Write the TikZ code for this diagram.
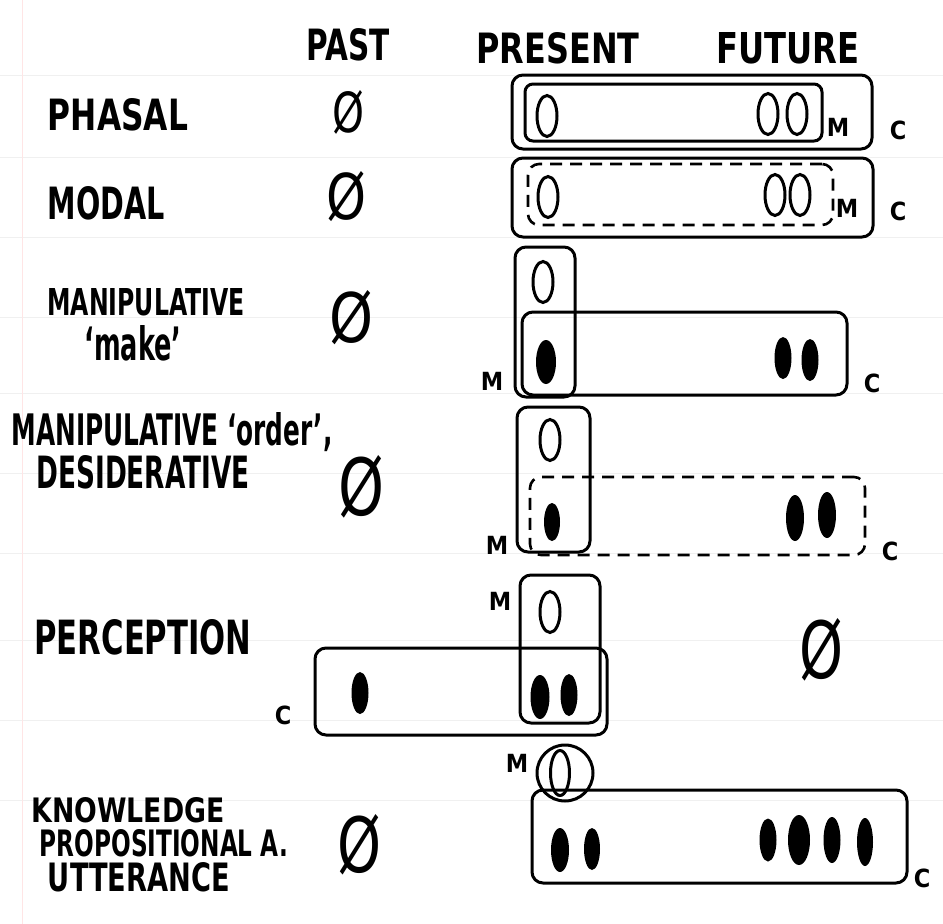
\documentclass[tikz,border=0pt]{standalone}
\usepackage{fontspec}
\setmainfont{DejaVu Sans Condensed}
\usepackage{graphicx}
\usetikzlibrary{shapes.geometric}
\newcommand{\fitlabel}[3]{\resizebox{#1pt}{#2pt}{\bfseries #3}}
\newcommand{\fitnull}[2]{\resizebox{#1pt}{#2pt}{Ø}}
\begin{document}
\begin{tikzpicture}[x=1pt,y=-1pt,
  box/.style={draw, line width=3pt, rounded corners=11pt, inner sep=0pt},
  dbox/.style={draw, line width=2.6pt, rounded corners=11pt, inner sep=0pt, dash pattern=on 12pt off 8pt},
  open/.style={draw, ellipse, line width=3pt, minimum width=20pt, minimum height=41pt, inner sep=0pt},
  full/.style={fill, ellipse, minimum width=17pt, minimum height=42pt, inner sep=0pt},
  lab/.style={inner sep=0pt, anchor=center},
  tag/.style={inner sep=0pt, font=\fontsize{25}{25}\selectfont\bfseries},
  paper/.style={black!6, line width=1pt},
]
% sheet
\fill[white] (0,0) rectangle (943,924);
\useasboundingbox (0,0) rectangle (943,924);
\foreach \yy in {75,157,237,317,393,473,553,640,720,800}
  \draw[paper] (0,\yy) -- (943,\yy);
\draw[red!10, line width=1pt] (22,0) -- (22,924);

% column heads
\node[lab] (hpast) at (348,45) {\fitlabel{83}{32}{PAST}};
\node[lab] (hpres) at (558,48) {\fitlabel{163}{31}{PRESENT}};
\node[lab] (hfut)  at (788,48) {\fitlabel{143}{31}{FUTURE}};

% row heads
\node[lab] (lphasal) at (118,115) {\fitlabel{140}{32}{PHASAL}};
\node[lab] (lmodal)  at (106,203) {\fitlabel{117}{33}{MODAL}};
\node[lab] (lmanA)   at (146,302) {\fitlabel{197}{27}{MANIPULATIVE}};
\node[lab] (lmake)   at (133,343) {\fitlabel{97}{35}{`make'}};
\node[lab] (lmanB)   at (172,432) {\fitlabel{321}{33}{MANIPULATIVE `order',}};
\node[lab] (ldes)    at (143,472) {\fitlabel{213}{33}{DESIDERATIVE}};
\node[lab] (lperc)   at (143,637) {\fitlabel{217}{35}{PERCEPTION}};
\node[lab] (lknow)   at (128,810) {\fitlabel{193}{25}{KNOWLEDGE}};
\node[lab] (lprop)   at (164,843) {\fitlabel{248}{27}{PROPOSITIONAL A.}};
\node[lab] (lutt)    at (139,877) {\fitlabel{182}{29}{UTTERANCE}};

% empty slots
\node[lab] (n1) at (349,112) {\fitnull{32}{42}};
\node[lab] (n2) at (347,197) {\fitnull{40}{48}};
\node[lab] (n3) at (352,318) {\fitnull{44}{52}};
\node[lab] (n4) at (362,487) {\fitnull{46}{60}};
\node[lab] (n5) at (821,650) {\fitnull{44}{60}};
\node[lab] (n6) at (360,845) {\fitnull{44}{58}};

% phasal
\node[box, minimum width=360pt, minimum height=74pt] (pc) at (692,112) {};
\node[box, minimum width=297pt, minimum height=57pt, rounded corners=8pt] (pm) at (673.5,112.5) {};
\node[open] (po1) at (547,116) {};
\node[open] (po2) at (768,114) {};
\node[open] (po3) at (797,114) {};
\node[tag] (pmt) at (838,127) {M};
\node[tag] (pct) at (898,130) {C};

% modal
\node[box, minimum width=361pt, minimum height=79pt] (mc) at (692.5,197.5) {};
\node[dbox, minimum width=305pt, minimum height=61pt] (mm) at (680.5,194.5) {};
\node[open] (mo1) at (548,197) {};
\node[open] (mo2) at (775,195) {};
\node[open] (mo3) at (800,195) {};
\node[tag] (mmt) at (847,208) {M};
\node[tag] (mct) at (898,211) {C};

% manipulative 'make'
\node[box, minimum width=325pt, minimum height=83pt] (kc) at (684.5,353.5) {};
\node[box, minimum width=60pt, minimum height=150pt] (km) at (545,322) {};
\node[open] (ko1) at (543,282) {};
\node[full, minimum width=20pt, minimum height=44pt] (kf1) at (546,362) {};
\node[full] (kf2) at (783,358) {};
\node[full] (kf3) at (810,360) {};
\node[tag] (kmt) at (492,381) {M};
\node[tag] (kct) at (872,383) {C};

% manipulative 'order', desiderative
\node[box, minimum width=73pt, minimum height=145pt] (om) at (553.5,479.5) {};
\node[dbox, minimum width=335pt, minimum height=78pt] (oc) at (697.5,516) {};
\node[open] (oo1) at (550,440) {};
\node[full, minimum width=16pt, minimum height=38pt] (of1) at (552,522) {};
\node[full, minimum width=18pt, minimum height=46pt] (of2) at (795,518) {};
\node[full, minimum width=18pt, minimum height=46pt] (of3) at (827,515) {};
\node[tag] (omt) at (497,545) {M};
\node[tag] (oct) at (890,551) {C};

% perception
\node[box, minimum width=292pt, minimum height=87pt] (ec) at (461,691.5) {};
\node[box, minimum width=80pt, minimum height=148pt] (em) at (560,649) {};
\node[open] (eo1) at (550,612) {};
\node[full, minimum width=19pt, minimum height=44pt] (ef1) at (540,697) {};
\node[full] (ef2) at (569,695) {};
\node[full] (ef3) at (360,693) {};
\node[tag] (emt) at (500,601) {M};
\node[tag] (ect) at (283,715) {C};

% knowledge, propositional attitude, utterance
\node[draw, circle, line width=3pt, minimum size=56pt, inner sep=0pt] (um) at (565,773) {};
\node[open, minimum width=19pt, minimum height=45pt] (uo1) at (560,773) {};
\node[box, minimum width=375pt, minimum height=93pt] (uc) at (719.5,836.5) {};
\node[full, minimum width=18pt, minimum height=44pt] (uf1) at (560,850) {};
\node[full, minimum width=16pt, minimum height=42pt] (uf2) at (592,849) {};
\node[full, minimum width=17pt, minimum height=43pt] (uf3) at (768,840) {};
\node[full, minimum width=22pt, minimum height=50pt] (uf4) at (799,840) {};
\node[full, minimum width=17pt, minimum height=46pt] (uf5) at (832,840) {};
\node[full, minimum width=16pt, minimum height=48pt] (uf6) at (865,842) {};
\node[tag] (umt) at (517,763) {M};
\node[tag] (uct) at (922,878) {C};
\end{tikzpicture}
\end{document}
